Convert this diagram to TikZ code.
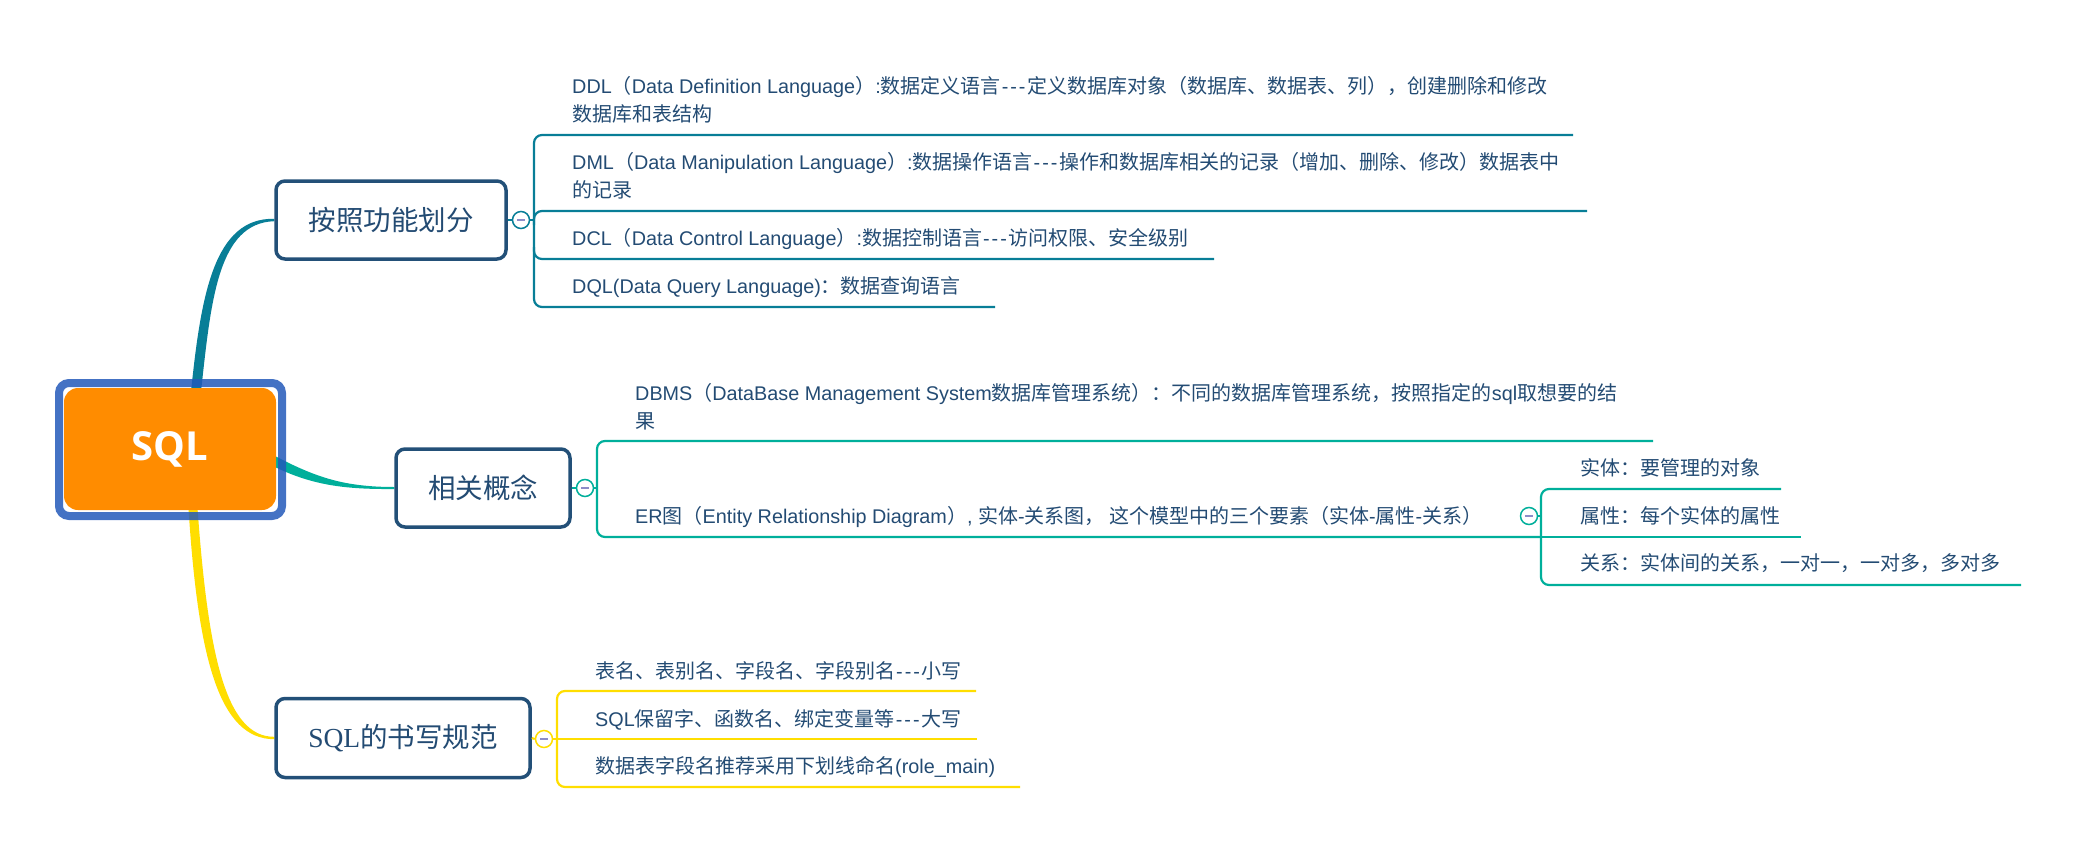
\documentclass[tikz,border=0pt]{standalone}
\usepackage{fontspec}
\newfontfamily\cjk{Noto Sans CJK SC}
\newfontfamily\lat[Scale=0.99]{Liberation Sans}
\newfontfamily\latserif{Liberation Serif}
\newfontfamily\rootfont{Open Sans}
\usetikzlibrary{backgrounds,calc}
\newcommand\EN[1]{{\lat #1}}
\newcommand\dashes{{\lat \kern1pt-\kern2pt-\kern2pt-\kern2pt}}
\definecolor{gonec}{RGB}{8,126,151}
\definecolor{gtwoc}{RGB}{0,175,155}
\definecolor{gthreec}{RGB}{255,222,0}
\definecolor{boxc}{RGB}{35,80,120}
\definecolor{textc}{RGB}{35,75,115}
\definecolor{rootc}{RGB}{35,89,186}
\definecolor{orangec}{RGB}{255,140,0}
\definecolor{minusc}{RGB}{140,140,200}
\newcommand\mns{\textcolor{minusc}{\rule[-1pt]{8pt}{2pt}}}
\begin{document}
\begin{tikzpicture}[x=1pt,y=-1pt,
  txt/.style={anchor=base west, inner sep=0pt, text=textc, font=\cjk\fontsize{20}{24}\selectfont},
  topic/.style={draw=boxc, line width=3.5pt, rounded corners=9pt, fill=white, minimum height=78pt, inner sep=0pt, text=textc, font=\cjk\fontsize{27.5}{32}\selectfont},
  coll/.style={circle, draw=#1, line width=1.5pt, fill=white, minimum size=17pt, inner sep=0pt},
  br/.style={draw=#1, line width=2.2pt},
  rootframe/.style={draw=rootc, draw opacity=0.85, line width=8pt, rounded corners=10pt, minimum width=223pt, minimum height=133pt, inner sep=0pt},
  rootbox/.style={fill=orangec, rounded corners=14pt, minimum width=212pt, minimum height=122pt, inner sep=0pt, text=white, font=\rootfont\bfseries\fontsize{40}{44}\selectfont},
]
\useasboundingbox (0,0) rectangle (2088,862);

% root
\node[rootframe] (sqlf) at (170.5,449.5) {};
\node[rootbox] (sql) at (170,449) {SQL};

% group 1
\node[topic, minimum width=230pt] (t1) at (391,220) {按照功能划分};
\node[coll=gonec] (k1) at (521,220) {\mns};
\coordinate (v1) at (534,220);
\draw[br=gonec] (t1.east) -- (k1.west);
\draw[br=gonec] (k1.east) -- (v1);
\node[txt] (ddl) at (572,93.4) {\EN{DDL}（\EN{Data Definition Language}）\EN{:}数据定义语言\dashes 定义数据库对象（数据库、数据表、列），创建删除和修改};
\node[txt] (ddlb) at (572,121.4) {数据库和表结构};
\node[txt] (dml) at (572,169.4) {\EN{DML}（\EN{Data Manipulation Language}）\EN{:}数据操作语言\dashes 操作和数据库相关的记录（增加、删除、修改）数据表中};
\node[txt] (dmlb) at (572,197.4) {的记录};
\node[txt] (dcl) at (572,245.4) {\EN{DCL}（\EN{Data Control Language}）\EN{:}数据控制语言\dashes 访问权限、安全级别};
\node[txt] (dql) at (572,293.4) {\EN{DQL(Data Query Language)}：数据查询语言};
\coordinate (u1a) at (1573,135);
\coordinate (u1b) at (1587,211);
\coordinate (u1c) at (1214,259);
\coordinate (u1d) at (995,307);
\draw[br=gonec, rounded corners=8pt] (u1a) -- (534,135) -- (534,307) -- (u1d);
\draw[br=gonec, rounded corners=8pt] (534,225) -- (534,211) -- (u1b);
\draw[br=gonec, rounded corners=8pt] (534,247) -- (534,259) -- (u1c);

% group 2
\node[topic, minimum width=174pt] (t2) at (483,488) {相关概念};
\node[coll=gtwoc] (k2) at (585,488) {\mns};
\coordinate (v2) at (597,488);
\draw[br=gtwoc] (t2.east) -- (k2.west);
\draw[br=gtwoc] (k2.east) -- (v2);
\node[txt] (dbms) at (635,400.4) {\EN{DBMS}（\EN{DataBase Management System}数据库管理系统）：不同的数据库管理系统，按照指定的\EN{sql}取想要的结};
\node[txt] (dbmsb) at (635,428.4) {果};
\node[txt] (er) at (635,523.4) {\EN{ER}图（\EN{Entity Relationship Diagram}）\EN{, }实体\EN{-}关系图， 这个模型中的三个要素（实体\EN{-}属性\EN{-}关系）};
\coordinate (u2a) at (1653,441);
\coordinate (u2b) at (1541,537);
\draw[br=gtwoc, rounded corners=8pt] (u2a) -- (597,441) -- (597,537) -- (u2b);

% sub group
\node[coll=gtwoc] (k3) at (1529,516) {\mns};
\coordinate (v3) at (1541,516);
\draw[br=gtwoc] (k3.east) -- (v3);
\node[txt] (st) at (1580,475) {实体：要管理的对象};
\node[txt] (sx) at (1580,523.4) {属性：每个实体的属性};
\node[txt] (gx) at (1580,570.5) {关系：实体间的关系，一对一，一对多，多对多};
\coordinate (u3a) at (1781,489);
\coordinate (u3b) at (1801,537);
\coordinate (u3c) at (2021,585);
\draw[br=gtwoc, rounded corners=8pt] (u3a) -- (1541,489) -- (1541,585) -- (u3c);
\draw[br=gtwoc] (u2b) -- (u3b);

% group 3
\node[topic, minimum width=254pt, minimum height=79pt] (t3) at (403,738) {{\latserif SQL}的书写规范};
\node[coll=gthreec] (k4) at (544,739) {\mns};
\coordinate (v4) at (557,739);
\draw[br=gthreec] (t3.east) -- (k4.west);
\draw[br=gthreec] (k4.east) -- (v4);
\node[txt] (r1) at (595,678.5) {表名、表别名、字段名、字段别名\dashes 小写};
\node[txt] (r2) at (595,726.5) {\EN{SQL}保留字、函数名、绑定变量等\dashes 大写};
\node[txt] (r3) at (595,773.5) {数据表字段名推荐采用下划线命名\EN{(role\_main)}};
\coordinate (u4a) at (976,691);
\coordinate (u4b) at (977,739);
\coordinate (u4c) at (1020,787);
\draw[br=gthreec, rounded corners=8pt] (u4a) -- (557,691) -- (557,787) -- (u4c);
\draw[br=gthreec] (v4) -- (u4b);

% main connectors (tapered)
\begin{pgfonlayer}{background}
\fill[gonec] ($(sql.north)+(21,4)$) .. controls (201,295) and (214,217.5) .. ($(t1.west)+(0,-1.2)$)
  -- ($(t1.west)+(0,1.2)$) .. controls (218,223) and (211,300) .. ($(sql.north)+(31,4)$) -- cycle;
\fill[gtwoc] (270.3,453.6) .. controls (313,476) and (341,487) .. ($(t2.west)+(0,-1)$)
  -- ($(t2.west)+(0,1)$) .. controls (339,489.5) and (307,484) .. (265.7,462.4) -- cycle;
\fill[gthreec] ($(sql.south)+(18.5,-2)$) .. controls (198,658) and (219,739.2) .. ($(t3.west)+(0,1.2)$)
  -- ($(t3.west)+(0,-1.2)$) .. controls (225,737) and (208,652) .. ($(sql.south)+(27.5,-2)$) -- cycle;
\end{pgfonlayer}
\end{tikzpicture}
\end{document}
